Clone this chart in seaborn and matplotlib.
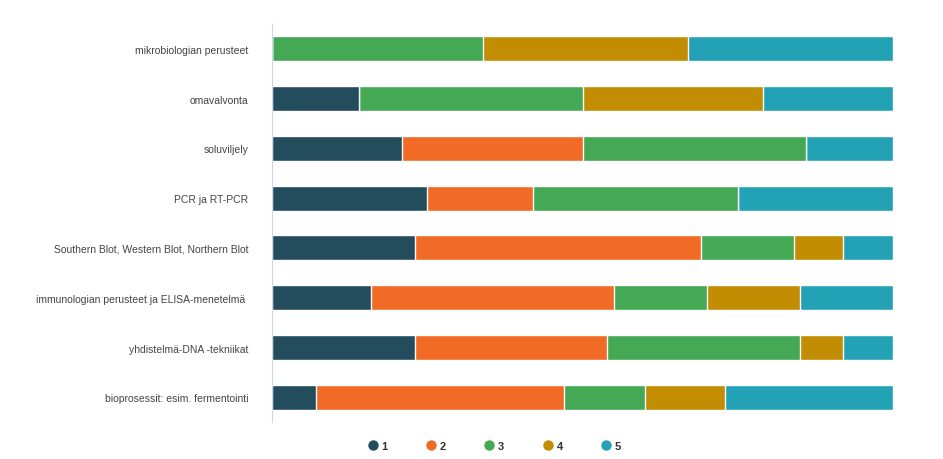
import pandas as pd
import numpy as np
import matplotlib.pyplot as plt
import seaborn as sns
from matplotlib.lines import Line2D

categories = [
    "mikrobiologian perusteet",
    "omavalvonta",
    "soluviljely",
    "PCR ja RT-PCR",
    "Southern Blot, Western Blot, Northern Blot",
    "immunologian perusteet ja ELISA-menetelmä ",
    "yhdistelmä-DNA -tekniikat",
    "bioprosessit: esim. fermentointi",
]
series = ["1", "2", "3", "4", "5"]
# shares in percent
s1 = [0, 14, 21, 25, 23, 16, 23, 7]
s2 = [0, 0, 29, 17, 46, 39, 31, 40]
s3 = [34, 36, 36, 33, 15, 15, 31, 13]
s4 = [33, 29, 0, 0, 8, 15, 7, 13]
s5 = [33, 21, 14, 25, 8, 15, 8, 27]
colors = ["#234d5c", "#f26b26", "#44a855", "#c28c03", "#23a1b5"]

plt.rcParams["font.family"] = ["Liberation Sans", "DejaVu Sans"]

df = pd.DataFrame({"1": s1, "2": s2, "3": s3, "4": s4, "5": s5}, index=categories)
pct = df.div(df.sum(axis=1), axis=0) * 100
cum = pct.cumsum(axis=1)

fig, ax = plt.subplots(figsize=(9.43, 4.6), dpi=100)
fig.subplots_adjust(left=0.2885, right=0.947, top=0.946, bottom=0.08)

# stack by drawing cumulative totals, longest first
for name, col in reversed(list(zip(series, colors))):
    sns.barplot(x=cum[name].values, y=categories, color=col, orient="h",
                width=0.5, saturation=1, edgecolor="white", linewidth=1, ax=ax)

ax.set_xlim(0, 100)
ax.set_ylim(7.5, -0.5)
ax.set_xticks([])
ax.set_xlabel("")
ax.set_ylabel("")
ax.tick_params(axis="y", length=0, pad=17, labelsize=7.5, labelcolor="#444444")
for s in ["top", "right", "bottom"]:
    ax.spines[s].set_visible(False)
ax.spines["left"].set_color("#ccd6eb")

handles = [Line2D([0], [0], marker="o", color="w", markerfacecolor=c,
                  markersize=8.5, label=n) for n, c in zip(series, colors)]
leg = fig.legend(handles=handles, loc="lower center", ncol=5, frameon=False,
                 bbox_to_anchor=(0.524, -0.005), columnspacing=3.4,
                 handlelength=1.0, handletextpad=0.3,
                 prop={"weight": "bold", "size": 8})
for t in leg.get_texts():
    t.set_color("#333333")

plt.savefig("out.png")
